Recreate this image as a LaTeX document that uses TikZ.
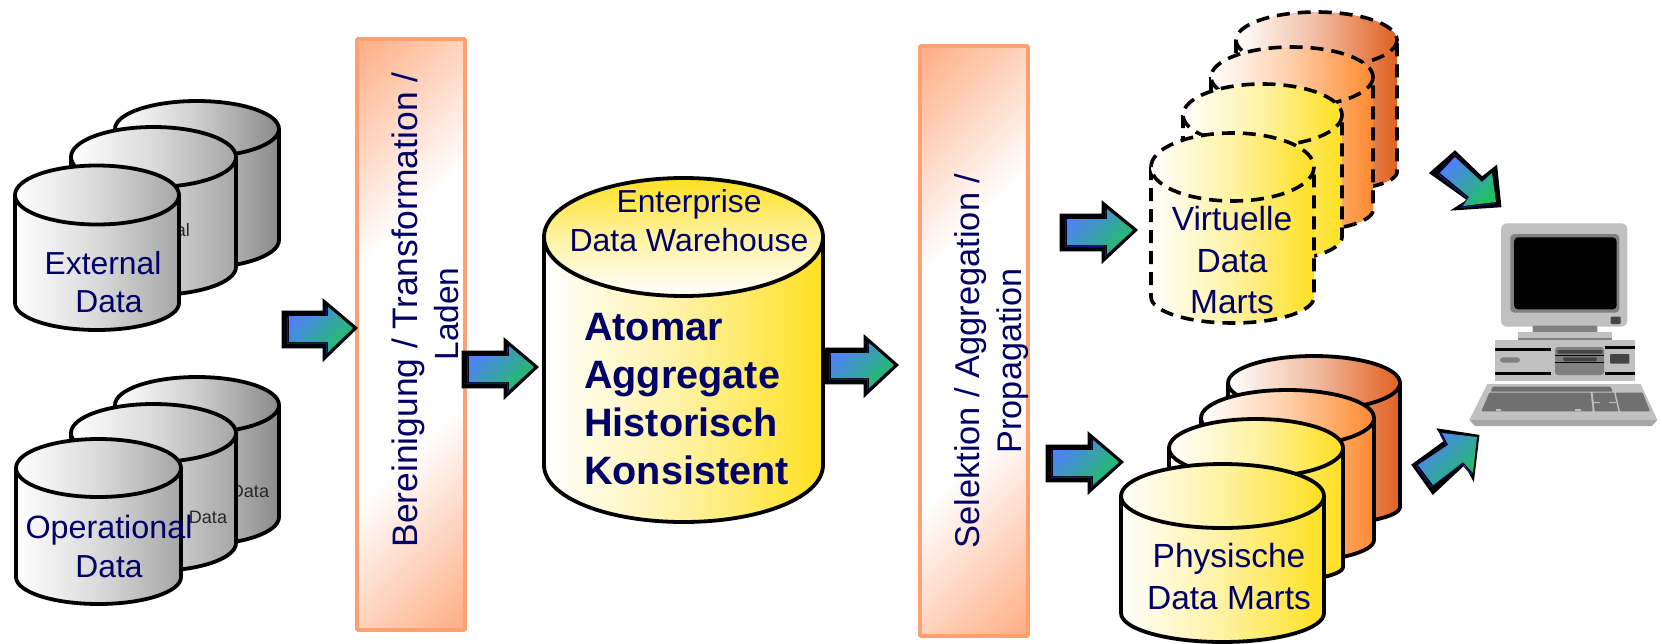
\documentclass[tikz,border=0pt]{standalone}
\usepackage{tikz}
\usepackage{fontspec}
\setmainfont{Liberation Sans}
\definecolor{txt}{HTML}{000066}
\definecolor{grayA}{HTML}{A6A6A6}
\definecolor{grayB}{HTML}{8A8A8A}
\definecolor{yel}{HTML}{FFE020}
\definecolor{ora}{HTML}{FF8A30}
\definecolor{brn}{HTML}{E06020}
\definecolor{sal}{HTML}{FFA070}
\definecolor{arrA}{HTML}{5080F8}
\definecolor{arrB}{HTML}{20C060}
\definecolor{arrN}{HTML}{101880}
\definecolor{compG}{HTML}{C0C0C0}
\definecolor{compM}{HTML}{808080}
\definecolor{compD}{HTML}{707070}
\definecolor{compN}{HTML}{444444}
\pgfdeclareverticalshading{barshade}{100bp}{color(0bp)=(sal); color(11bp)=(sal); color(38bp)=(white); color(62bp)=(white); color(89bp)=(sal); color(100bp)=(sal)}
\tikzset{
  cylline/.style={line width=3.8pt,line join=round},
  dashline/.style={line width=3.6pt,dash pattern=on 13pt off 8pt},
  lab/.style={anchor=base,text=txt,inner sep=0pt,font=\fontsize{31.8}{38}\selectfont},
  boldlab/.style={anchor=base west,text=txt,inner sep=0pt,font=\fontsize{39.6}{48}\selectfont\bfseries},
  smalllab/.style={anchor=base,text=black!85,inner sep=0pt,font=\fontsize{18}{22}\selectfont},
  rotlab/.style={anchor=base,rotate=90,text=txt,inner sep=0pt},
  arrowouter/.style={fill=black,draw=black,line width=2.6pt,line join=miter},
  arrowfill/.style={top color=arrA,bottom color=arrB,shading angle=45},
  barbox/.style={shading=barshade,shading angle=45},
  barline/.style={draw=sal,line width=3.6pt,rounded corners=1pt},
}
% x1, x2, centre y of top, ry, y where the sides end, depth of bottom, colour, line style
\newcommand\cylinder[8]{%
  \pgfmathsetmacro\xm{(#1+#2)/2}%
  \pgfmathsetmacro\rx{(#2-#1)/2}%
  \pgfmathsetmacro\kx{0.5523*\rx}%
  \pgfmathsetmacro\yb{#5+#6}%
  \pgfmathsetmacro\yk{#5+0.5523*#6}%
  \pgfmathsetmacro\xl{\xm-\kx}%
  \pgfmathsetmacro\xr{\xm+\kx}%
  \shade[left color=white,right color=#7,middle color=#7!42!white] (#1,#3) -- (#1,#5) .. controls (#1,\yk) and (\xl,\yb) .. (\xm,\yb) .. controls (\xr,\yb) and (#2,\yk) .. (#2,#5) -- (#2,#3) -- cycle;
  \draw[#8] (#1,#3) -- (#1,#5) .. controls (#1,\yk) and (\xl,\yb) .. (\xm,\yb) .. controls (\xr,\yb) and (#2,\yk) .. (#2,#5) -- (#2,#3);
  \shade[left color=white,right color=#7,middle color=#7!42!white] (\xm,#3) ellipse [x radius=\rx,y radius=#4];
  \draw[#8] (\xm,#3) ellipse [x radius=\rx,y radius=#4];
}
\newcommand\blockarrow[2]{%
  \draw[arrowouter] #1 -- cycle;
  \draw[arrN,line width=1.2pt,xshift=-1.5pt,yshift=-1.5pt] #2 -- cycle;
  \shade[arrowfill] #2 -- cycle;
}
% tail, shoulder, tip, body top, body bottom, head top, head bottom, tip y
\newcommand\harrow[8]{%
  \pgfmathsetmacro\ia{#1+6}\pgfmathsetmacro\ib{#2+4}\pgfmathsetmacro\ic{#3-3}%
  \pgfmathsetmacro\id{#4+4}\pgfmathsetmacro\ie{#5-5}\pgfmathsetmacro\iff{#6+6}\pgfmathsetmacro\ig{#7-7}%
  \blockarrow{(#1,#4) -- (#2,#4) -- (#2,#6) -- (#3,#8) -- (#2,#7) -- (#2,#5) -- (#1,#5)}%
             {(\ia,\id) -- (\ib,\id) -- (\ib,\iff) -- (\ic,#8) -- (\ib,\ig) -- (\ib,\ie) -- (\ia,\ie)}%
}
\begin{document}
\begin{tikzpicture}[x=1pt,y=-1pt]
\useasboundingbox[fill=white] (0,0) rectangle (1662,643);

% External group
\cylinder{115}{279}{129}{28}{240}{28}{grayB}{cylline}
\cylinder{71}{236}{157}{30}{267}{28}{grayA}{cylline}
\node[smalllab,anchor=base east] (extal) at (190,236) {al};
\cylinder{15}{179}{195}{29.5}{303}{27}{grayA}{cylline}
\node[lab] (ext1) at (103,274) {External};
\node[lab] (ext2) at (109,312) {Data};

% Operational group
\cylinder{115}{279}{405}{28}{517}{28}{grayB}{cylline}
\node[smalllab] (opd3) at (250,497) {Data};
\cylinder{71}{236}{433}{29}{543}{28}{grayA}{cylline}
\node[smalllab] (opd2) at (208,523) {Data};
\cylinder{16}{181}{468}{29}{577}{27}{grayA}{cylline}
\node[lab,font=\fontsize{32.3}{38}\selectfont] (op1) at (109,538) {Operational};
\node[lab] (op2) at (109,577) {Data};

% Bar 1
\shade[barbox] (357,39) rectangle (465,630);
\draw[barline] (357,39) rectangle (465,630);
\node[rotlab,font=\fontsize{35.4}{40}\selectfont] (bar1a) at (417,310) {Bereinigung / Transformation /};
\node[rotlab,font=\fontsize{33.5}{40}\selectfont] (bar1b) at (458,314) {Laden};

% Bar 2
\shade[barbox] (920,46) rectangle (1028,636);
\draw[barline] (920,46) rectangle (1028,636);
\node[rotlab,font=\fontsize{34.4}{40}\selectfont] (bar2a) at (979,361) {Selektion / Aggregation /};
\node[rotlab,font=\fontsize{34.2}{40}\selectfont] (bar2b) at (1021,361) {Propagation};

% Enterprise DW
\shade[left color=white,right color=yel,middle color=yel!42!white] (544,237) -- (544,465) .. controls (544,497) and (606,522) .. (683.5,522) .. controls (761,522) and (823,497) .. (823,465) -- (823,237) -- cycle;
\draw[cylline] (544,237) -- (544,465) .. controls (544,497) and (606,522) .. (683.5,522) .. controls (761,522) and (823,497) .. (823,465) -- (823,237);
\shade[top color=yel,bottom color=white,middle color=yel!42!white] (683.5,237) ellipse [x radius=139.5,y radius=59];
\draw[cylline] (683.5,237) ellipse [x radius=139.5,y radius=59];
\node[lab] (edw1) at (689,212) {Enterprise};
\node[lab,font=\fontsize{32}{38}\selectfont] (edw2) at (689,251) {Data Warehouse};
\node[boldlab] (at1) at (584,340) {Atomar};
\node[boldlab] (at2) at (584,388) {Aggregate};
\node[boldlab] (at3) at (584,436) {Historisch};
\node[boldlab] (at4) at (584,484) {Konsistent};

% Virtual marts
\cylinder{1236}{1397}{40}{28}{172}{20}{brn}{dashline}
\cylinder{1211}{1373}{77}{30}{210}{22}{ora}{dashline}
\cylinder{1183}{1342}{115}{31}{237}{25}{yel}{dashline}
\cylinder{1151}{1314}{167}{34}{297}{26}{yel}{dashline}
\node[lab,font=\fontsize{33.5}{40}\selectfont] (vm1) at (1232,230) {Virtuelle};
\node[lab,font=\fontsize{33.5}{40}\selectfont] (vm2) at (1232,272) {Data};
\node[lab,font=\fontsize{33.5}{40}\selectfont] (vm3) at (1232,313) {Marts};

% Physical marts
\cylinder{1228}{1400}{383}{27}{507}{18}{brn}{cylline}
\cylinder{1201}{1374}{418}{28}{540}{22}{ora}{cylline}
\cylinder{1169}{1343}{448}{29}{567}{16}{yel}{cylline}
\cylinder{1121}{1324}{496}{32}{613}{29}{yel}{cylline}
\node[lab,font=\fontsize{33.5}{40}\selectfont] (pm1) at (1229,567) {Physische};
\node[lab,font=\fontsize{33.5}{40}\selectfont] (pm2) at (1229,609) {Data Marts};

% Arrows
\harrow{283}{324}{356}{312}{347}{301}{359}{328}
\harrow{463}{505}{537}{352}{387}{340}{397}{367}
\harrow{825}{865}{897}{349}{383}{337}{395}{365}
\harrow{1061}{1103}{1136}{215}{250}{203}{261}{230}
\harrow{1047}{1089}{1122}{446}{481}{434}{492}{462}
\blockarrow{(1455,152) -- (1482,178) -- (1496,167) -- (1500,206) -- (1455,209) -- (1469,200) -- (1431,173)}%
           {(1455,157) -- (1482,182) -- (1492,173) -- (1496,202) -- (1463,206) -- (1469,197) -- (1440,173)}
\blockarrow{(1413,465) -- (1446,441) -- (1439,430) -- (1478,436) -- (1473,478) -- (1465,463) -- (1433,493)}%
           {(1418,465) -- (1448,445) -- (1442,433) -- (1477,437) -- (1473,473) -- (1463,462) -- (1433,485)}

% Computer
\begin{scope}[shift={(1400,200)},x=0.33333pt,y=-0.33333pt]
  \fill[compG,rounded corners=6pt] (303,70) rectangle (682,380);
  \fill[compM,rounded corners=4pt] (331,102) rectangle (658,338);
  \fill[black,rounded corners=4pt] (342,112) rectangle (650,328);
  \fill[compN,rounded corners=1pt] (632,350) rectangle (662,372);
  \fill[compM,rounded corners=1pt] (398,377) rectangle (592,397);
  \fill[compG] (354,397) rectangle (636,415);
  \fill[compM] (354,415) rectangle (636,426);
  \fill[compG] (286,420) rectangle (704,542);
  \fill[black] (286,443) rectangle (454,452);
  \fill[black] (286,515) rectangle (454,524);
  \fill[black] (615,438) rectangle (704,448);
  \fill[black] (615,515) rectangle (704,524);
  \fill[compM,rounded corners=3pt] (465,441) rectangle (612,525);
  \fill[compN,rounded corners=1pt] (472,450) rectangle (608,461);
  \fill[black] (465,465) rectangle (612,469);
  \fill[compN,rounded corners=1pt] (490,472) rectangle (590,484);
  \fill[black] (465,486) rectangle (612,490);
  \fill[compM,rounded corners=3pt] (300,472) rectangle (360,488);
  \fill[compN,rounded corners=1pt] (630,462) rectangle (688,491);
  \fill[compG] (262,552) -- (722,552) -- (772,660) -- (208,660) -- cycle;
  \fill[black!35] (208,660) -- (772,660) -- (755,678) -- (225,678) -- cycle;
  \fill[compD,rounded corners=1pt] (278,560) -- (632,560) -- (638,575) -- (272,575) -- cycle;
  \fill[compD,rounded corners=1pt] (268,578) -- (572,578) -- (578,634) -- (244,634) -- cycle;
  \fill[compD] (578,578) -- (642,578) -- (655,634) -- (584,634) -- cycle;
  \fill[compD,rounded corners=1pt] (647,578) -- (728,578) -- (750,634) -- (660,634) -- cycle;
  \fill[compG] (580,605) rectangle (600,610);
  \fill[compG] (628,605) rectangle (648,610);
  \fill[compG] (288,628) rectangle (304,634);
  \fill[compG] (526,628) rectangle (542,634);
\end{scope}
\end{tikzpicture}
\end{document}
